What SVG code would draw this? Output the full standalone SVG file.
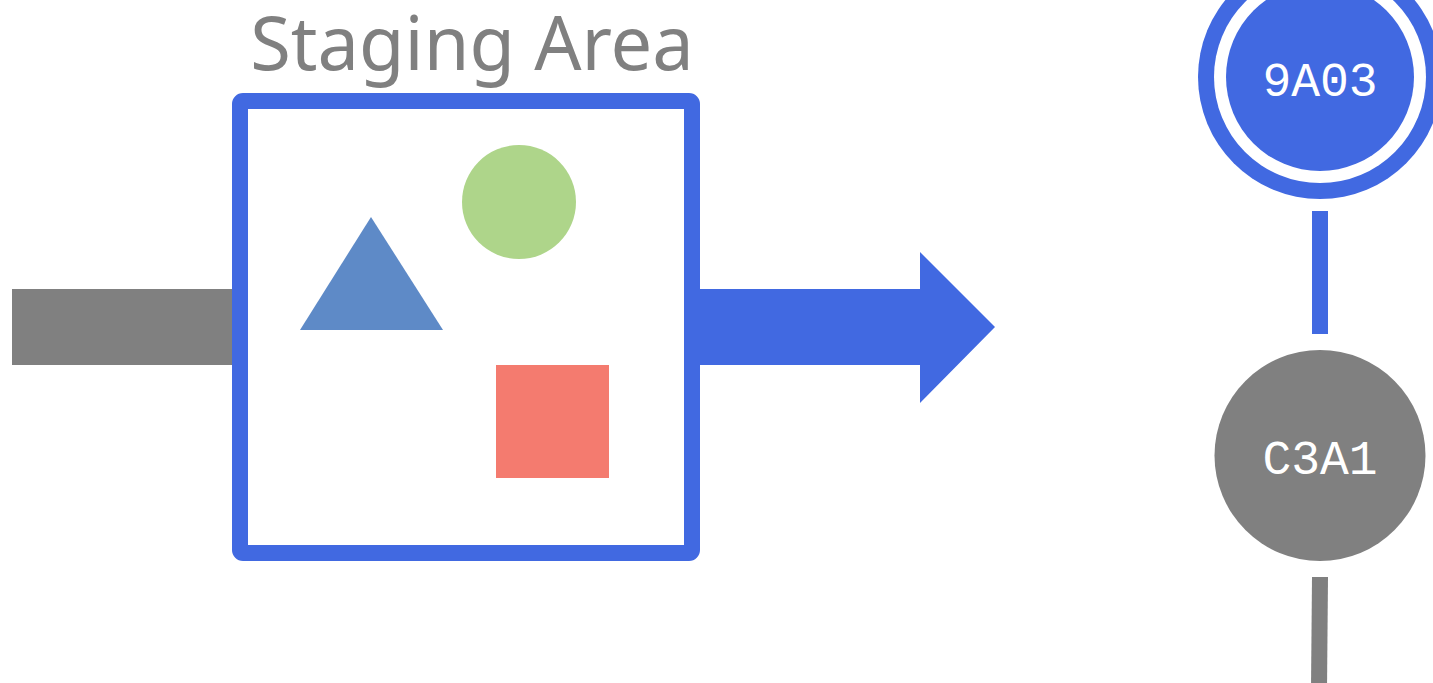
<svg xmlns="http://www.w3.org/2000/svg" width="1433" height="683" viewBox="0 0 1433 683">
<style>
.title{font-family:"Noto Sans","Open Sans",sans-serif;font-size:74px;fill:#808080}
.lbl{font-family:"Liberation Mono","DejaVu Sans Mono",monospace;font-size:48px;fill:#ffffff}
</style>
<rect width="1433" height="683" fill="#ffffff"/>
<g id="connectors">
<rect x="12" y="289" width="222" height="76" fill="#808080"/>
<polygon points="698,289 920,289 920,252 995,327 920,403 920,365 698,365" fill="#4169E1"/>
<rect x="1312" y="211" width="16" height="123" fill="#4169E1"/>
<line x1="1320" y1="577" x2="1319" y2="690" stroke="#808080" stroke-width="16"/>
</g>
<g id="staging">
<text class="title" x="472" y="70" text-anchor="middle">Staging Area</text>
<rect x="240" y="101" width="452" height="452" rx="3" fill="#ffffff" stroke="#4169E1" stroke-width="16"/>
<polygon points="300,330 443,330 371,217" fill="#5E8AC7"/>
<circle cx="519" cy="202" r="57" fill="#AED58A"/>
<rect x="496" y="365" width="113" height="113" fill="#F47B6F"/>
</g>
<g id="commit-9A03">
<circle cx="1320" cy="77" r="122" fill="#4169E1"/>
<circle cx="1320" cy="77" r="106" fill="#ffffff"/>
<circle cx="1320" cy="77" r="94" fill="#4169E1"/>
<text class="lbl" x="1320" y="96" text-anchor="middle">9A03</text>
</g>
<g id="commit-C3A1">
<circle cx="1320" cy="455.5" r="105.5" fill="#808080"/>
<text class="lbl" x="1320" y="474" text-anchor="middle">C3A1</text>
</g>
</svg>
